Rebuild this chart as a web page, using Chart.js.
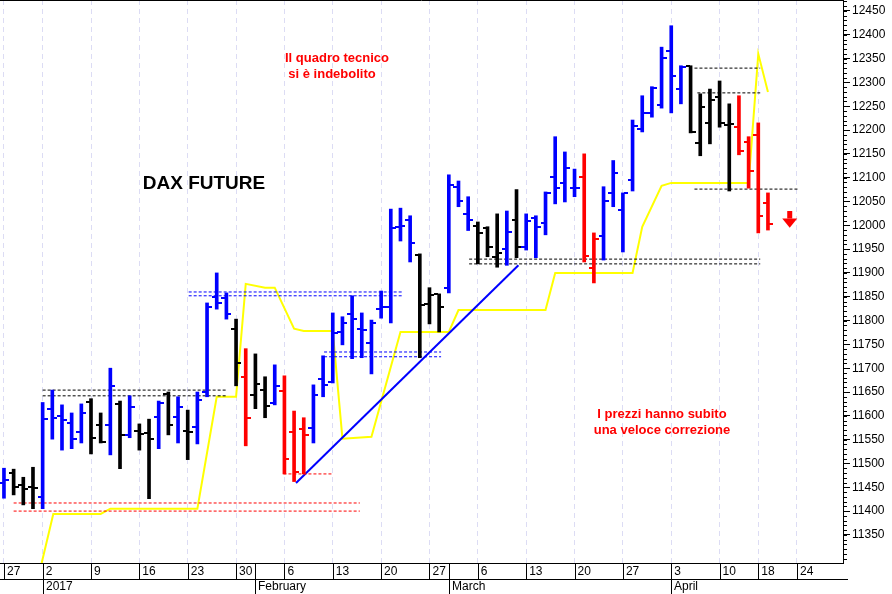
<!DOCTYPE html>
<html><head><meta charset="utf-8">
<script src="https://cdn.jsdelivr.net/npm/chart.js@4.4.1/dist/chart.umd.min.js"></script>
<style>html,body{margin:0;padding:0;background:#fff;}#wrap{width:892px;height:594px;}</style>
</head><body><div id="wrap"><canvas id="c" width="892" height="594"></canvas></div>
<script>
// OHLC per trading day (index 0 = 27 Dec 2016)
const opens  = [11460,11480,11455,11451,11430,11615,11600,11585,11566,11629,11581,11581,11625,11560,11569,11564,11598,11646,11598,11569,11577,11650,11850,11847,11783,11682,11644,11654,11627,11652,11566,11573,11575,11677,11671,11776,11814,11783,11753,11824,11829,11997,12011,11938,11835,11856,11869,12080,12024,11999,11995,11934,11950,12011,11954,12015,12005,12102,12089,12078,12102,11910,11978,12068,12032,12095,12202,12236,12253,12366,12286,12335,12173,12215,12269,12211,12206,12175,12190,12047];
const highs  = [11490,11488,11471,11492,11628,11654,11623,11606,11625,11636,11606,11700,11631,11642,11583,11593,11631,11650,11640,11612,11650,11837,11900,11858,11803,11741,11730,11682,11707,11684,11610,11596,11665,11726,11816,11808,11852,11816,11801,11862,12034,12036,12020,11940,11869,11856,12106,12093,12060,12007,11997,12024,12030,12075,12024,12020,12070,12186,12154,12118,12150,11984,12081,12136,12068,12221,12272,12291,12374,12419,12335,12335,12276,12286,12303,12255,12272,12186,12215,12068];
const lows   = [11427,11434,11413,11405,11405,11551,11528,11531,11543,11520,11543,11518,11489,11554,11528,11426,11531,11560,11543,11508,11541,11640,11824,11803,11663,11537,11615,11596,11623,11478,11462,11478,11543,11640,11669,11749,11720,11722,11688,11805,11795,11967,11923,11722,11793,11776,11858,12039,11989,11919,11934,11912,11916,11932,11948,11932,11980,12045,12049,12060,11923,11879,11927,12039,11944,12072,12196,12227,12246,12236,12255,12194,12146,12171,12206,12072,12148,12078,11984,11990];
const closes = [11466,11451,11447,11449,11593,11596,11591,11551,11606,11554,11545,11663,11560,11619,11562,11552,11627,11581,11619,11566,11633,11829,11837,11814,11711,11596,11667,11621,11663,11510,11482,11560,11644,11665,11774,11795,11803,11781,11795,11829,11994,11999,11963,11833,11854,11829,12085,12051,12011,11984,11954,11942,11986,11954,12009,11997,12068,12078,12120,12078,11936,11971,12052,12110,12068,12209,12236,12288,12351,12314,12332,12196,12249,12263,12215,12213,12156,12115,12020,12003];
const barColors = "bkkkbbbbbkkbkbkkbkbkbbbbkrkkbrrrbbbbbbbbbbbkkkbbbkkkbkbbbbbbrrbbbbbbbbbkkkkkrrrr";
// yellow indicator vertices [dayIndex, value]
const yellowX = [3.9,5.1,10,11,20,22,24,25,27,28,30,31,34,35,38,41,46,47,56,57,65,66,68,69,77,78,79];
const yellowY = [11291,11394,11394,11405,11405,11640,11640,11877,11869,11869,11783,11778,11778,11552,11556,11776,11776,11822,11822,11900,11900,11997,12083,12089,12089,12360,12280];
const trendX = [30.2,53.2], trendY = [11459,11916];
// dashed levels: [fromIdx, toIdx, value, color]
const levels = [
 [4.0,23.1,11654,'#000'],[4.0,23.1,11642,'#000'],
 [1.0,36.8,11417,'#f00'],[1.0,36.8,11400,'#f00'],
 [19.1,41.2,11860,'#00f'],[19.1,41.2,11852,'#00f'],
 [33.1,45.2,11734,'#00f'],[33.1,45.2,11724,'#00f'],
 [28.9,34.0,11478,'#f00'],
 [48.1,78.2,11929,'#000'],[48.1,78.2,11919,'#000'],
 [71.4,78.2,12330,'#000'],[71.7,78.2,12278,'#000'],
 [71.4,82.1,12076,'#000']
];
const weekIdx = [0,4,9,14,19,24,29,34,39,44,49,54,59,64,69,74,78,82];
const weekLabels = ['27','2','9','16','23','30','6','13','20','27','6','13','20','27','3','10','18','24'];
const monthIdx = [4,26,46,69];
const monthLabels = ['2017','February','March','April'];
const yTicks = [11350,11400,11450,11500,11550,11600,11650,11700,11750,11800,11850,11900,11950,12000,12050,12100,12150,12200,12250,12300,12350,12400,12450];

const cmap = {b:'#0000ff',k:'#000000',r:'#ff0000'};
const colArr = barColors.split('').map(c=>cmap[c]);
const FONT = 'Liberation Sans, Arial, sans-serif';

const datasets = [];
datasets.push({type:'line',data:yellowX.map((x,i)=>({x,y:yellowY[i]})),borderColor:'#ffff00',borderWidth:2,pointRadius:0,tension:0,order:5});
datasets.push({type:'line',data:trendX.map((x,i)=>({x,y:trendY[i]})),borderColor:'#0000ff',borderWidth:2,pointRadius:0,order:4});
levels.forEach(l=>datasets.push({type:'line',data:[{x:l[0],y:l[2]},{x:l[1],y:l[2]}],borderColor:l[3],borderWidth:1,borderDash:[3,2],pointRadius:0,order:3}));
datasets.push({type:'bar',data:highs.map((h,i)=>({x:i,y:[lows[i],h]})),backgroundColor:colArr,borderWidth:0,barThickness:3,order:1,grouped:false});

const ohlcTicks = {id:'ohlcTicks',afterDatasetsDraw(ch){
  const ctx=ch.ctx,xs=ch.scales.x,ys=ch.scales.y;
  ctx.save();
  for(let i=0;i<opens.length;i++){
    const px=Math.round(xs.getPixelForValue(i));
    ctx.fillStyle=colArr[i];
    ctx.fillRect(px-5,Math.round(ys.getPixelForValue(opens[i]))-1,4,2);
    ctx.fillRect(px+1,Math.round(ys.getPixelForValue(closes[i]))-1,4,2);
  }
  ctx.restore();
}};

const deco = {id:'deco',afterDraw(ch){
  const ctx=ch.ctx,xs=ch.scales.x,ys=ch.scales.y,a=ch.chartArea;
  ctx.save();
  ctx.setLineDash([]);
  ctx.strokeStyle='#000';ctx.lineWidth=1;
  ctx.beginPath();ctx.moveTo(0,0.5);ctx.lineTo(a.right,0.5);ctx.stroke();
  ctx.beginPath();ctx.moveTo(0,Math.round(a.bottom)+0.5);ctx.lineTo(a.right,Math.round(a.bottom)+0.5);ctx.stroke();
  ctx.beginPath();ctx.moveTo(0,579.5);ctx.lineTo(848,579.5);ctx.stroke();
  weekIdx.forEach(i=>{const p=Math.round(xs.getPixelForValue(i))+0.5;ctx.beginPath();ctx.moveTo(p,a.bottom);ctx.lineTo(p,579);ctx.stroke();});
  monthIdx.forEach(i=>{const p=Math.round(xs.getPixelForValue(i))+0.5;ctx.beginPath();ctx.moveTo(p,a.bottom);ctx.lineTo(p,594);ctx.stroke();});
  ctx.fillStyle='#000';ctx.font='12px '+FONT;ctx.textBaseline='top';ctx.textAlign='left';
  monthIdx.forEach((i,k)=>ctx.fillText(monthLabels[k],Math.round(xs.getPixelForValue(i))+3,581));
  // minor y ticks
  for(let v=11300;v<=12470;v+=10){const py=Math.round(ys.getPixelForValue(v))+0.5;ctx.beginPath();ctx.moveTo(a.right,py);ctx.lineTo(a.right+4,py);ctx.stroke();}
  // annotations
  ctx.textAlign='center';ctx.textBaseline='middle';
  ctx.fillStyle='#ff0000';ctx.font='bold 13px '+FONT;
  ctx.fillText('Il quadro tecnico',337,58);ctx.fillText('si è indebolito',332,74);
  ctx.fillText('I prezzi hanno subito',662,414);ctx.fillText('una veloce correzione',662,430);
  ctx.fillStyle='#000';ctx.font='bold 19px '+FONT;ctx.fillText('DAX FUTURE',204,184);
  // down arrow
  const ax=xs.getPixelForValue(81.2),y1=ys.getPixelForValue(12030),y2=ys.getPixelForValue(11995);
  ctx.fillStyle='#ff0000';ctx.fillRect(ax-2,y1,5,(y2-y1)*0.45);
  ctx.beginPath();ctx.moveTo(ax-7,y1+(y2-y1)*0.45);ctx.lineTo(ax+8,y1+(y2-y1)*0.45);ctx.lineTo(ax+0.5,y2);ctx.closePath();ctx.fill();
  ctx.restore();
}};

new Chart(document.getElementById('c'),{
  data:{datasets},
  options:{responsive:false,animation:false,events:[],
    layout:{padding:{left:0,top:0,right:0,bottom:0}},
    plugins:{legend:{display:false},tooltip:{enabled:false}},
    scales:{
      x:{type:'linear',min:-0.41,max:86.76,offset:false,
        afterBuildTicks:s=>{s.ticks=weekIdx.map(v=>({value:v}));},
        afterFit:s=>{s.height=31;s.paddingLeft=0;s.paddingRight=0;},
        ticks:{autoSkip:false,maxRotation:0,align:'start',labelOffset:3,padding:1,color:'#000',font:{family:FONT,size:12},
          callback:(v,i)=>weekLabels[i]},
        grid:{offset:false,color:'#dcdcf4',drawTicks:false,lineWidth:1},
        border:{display:true,color:'#000',width:1,dash:[5,4]}},
      y:{type:'linear',position:'right',min:11291,max:12473,
        afterBuildTicks:s=>{s.ticks=yTicks.map(v=>({value:v}));},
        afterFit:s=>{s.width=49;s.paddingTop=0;s.paddingBottom=0;},
        ticks:{color:'#000',padding:2,font:{family:FONT,size:12},callback:v=>String(v)},
        grid:{drawOnChartArea:false,drawTicks:true,tickLength:7,tickColor:'#000'},
        border:{display:true,color:'#000',width:1}}
    }},
  plugins:[ohlcTicks,deco]
});
</script></body></html>
